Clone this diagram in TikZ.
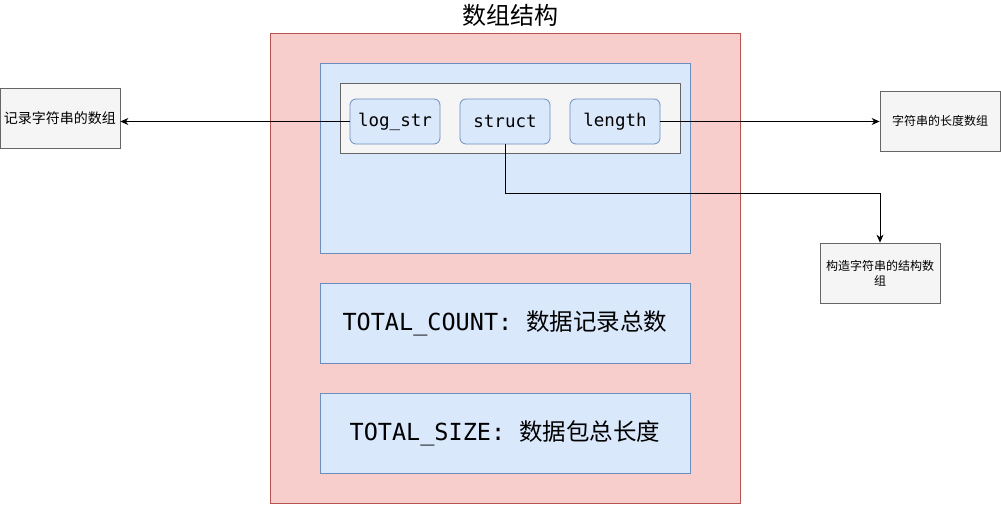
\documentclass[tikz,border=0pt]{standalone}
\usepackage{fontspec}
\setmainfont{Noto Sans CJK SC}
\newfontfamily\cjk{Noto Sans CJK SC}
\newfontfamily\mono{DejaVu Sans Mono}
\usetikzlibrary{arrows.meta}
\definecolor{redfill}{HTML}{F8CECC}
\definecolor{redline}{HTML}{B85450}
\definecolor{bluefill}{HTML}{DAE8FC}
\definecolor{blueline}{HTML}{6C8EBF}
\definecolor{grayfill}{HTML}{F5F5F5}
\definecolor{grayline}{HTML}{666666}
\tikzset{
  redbox/.style={draw=redline, fill=redfill, line width=0.8pt, inner sep=0pt},
  bluebox/.style={draw=blueline, fill=bluefill, line width=0.8pt, inner sep=0pt},
  graybox/.style={draw=grayline, fill=grayfill, line width=0.8pt, inner sep=0pt},
  fieldbox/.style={draw=blueline, fill=bluefill, line width=0.8pt, rounded corners=6pt,
    minimum width=90pt, minimum height=45pt, inner sep=0pt, font=\mono\fontsize{17.5}{20}\selectfont},
  extbox/.style={graybox, minimum width=120pt, minimum height=60pt, align=center},
  conn/.style={line width=0.8pt, -{Stealth[length=8pt,width=7pt]}}
}
\begin{document}
\begin{tikzpicture}[x=1pt,y=-1pt]
\useasboundingbox (0,0) rectangle (1001,504);
\node (title) at (510,15) {\cjk\fontsize{24}{26}\selectfont 数组结构};
\node[redbox, minimum width=470pt, minimum height=470pt] (outer) at (505,268) {};
\node[bluebox, minimum width=370pt, minimum height=190pt] (top) at (505,158) {};
\node[graybox, minimum width=340pt, minimum height=70pt] (inner) at (510,118) {};
\node[fieldbox] (logstr) at (395,121.5) {\raisebox{-1.5pt}{log\_str}};
\node[fieldbox] (struct) at (505,121.5) {\raisebox{-1.5pt}{struct}};
\node[fieldbox] (length) at (615,121.5) {\raisebox{-1.5pt}{length}};
\node[bluebox, minimum width=370pt, minimum height=80pt] (count) at (505,323)
  {\mono\fontsize{23.5}{26}\selectfont TOTAL\_COUNT: {\cjk 数据记录总数}};
\node[bluebox, minimum width=370pt, minimum height=80pt] (size) at (505,433)
  {\mono\fontsize{23.5}{26}\selectfont TOTAL\_SIZE: {\cjk 数据包总长度}};
\node[extbox, font=\cjk\fontsize{14}{16}\selectfont] (left) at (60,118) {记录字符串的数组};
\node[extbox, font=\cjk\fontsize{12}{15}\selectfont] (right) at (940,121) {字符串的长度数组};
\node[extbox, font=\cjk\fontsize{12}{15}\selectfont] (bottom) at (880,273) {构造字符串的结构数\\组};
\draw[conn] (logstr.west) -- (logstr.west -| left.east);
\draw[conn] (length.east) -- (length.east -| right.west);
\draw[conn] (struct.south) -- ++(0,49) -| (bottom.north);
\end{tikzpicture}
\end{document}
